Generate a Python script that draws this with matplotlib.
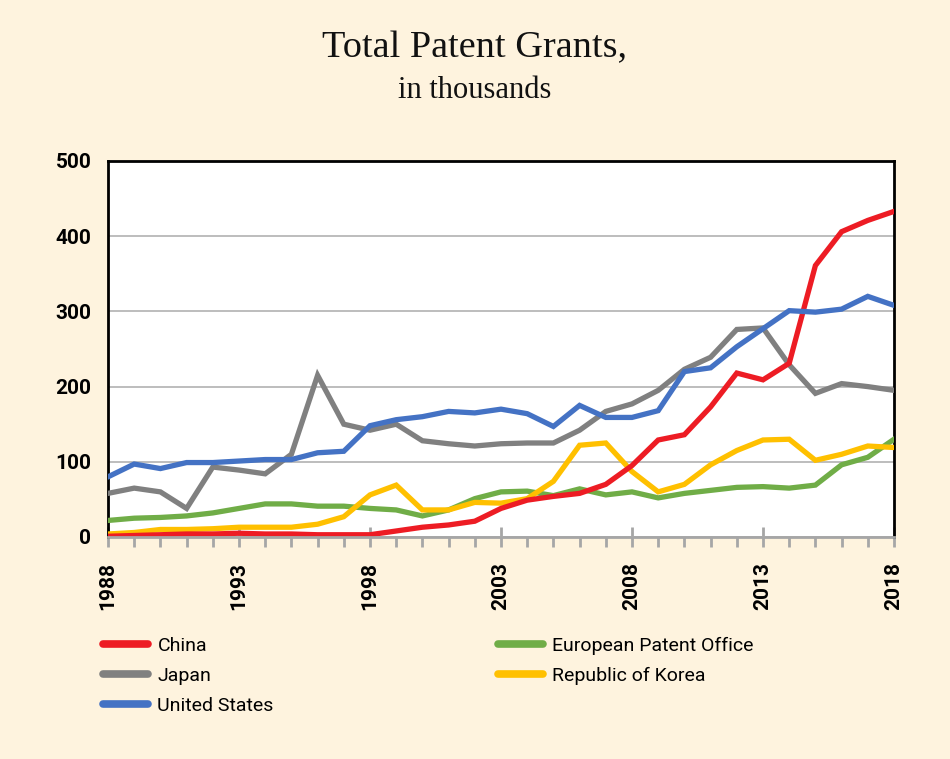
import matplotlib
matplotlib.use("Agg")
import matplotlib.pyplot as plt
from matplotlib.lines import Line2D

years = list(range(1988, 2019))

china = [1, 2, 3, 4, 4, 5, 4, 4, 3, 3, 3, 8, 13, 16, 21, 38,
         49, 54, 58, 70, 95, 129, 136, 173, 218, 209, 231, 361, 406, 421, 433]
japan = [58, 65, 60, 38, 93, 89, 84, 110, 215, 150, 142, 150, 128, 124, 121, 124,
         125, 125, 142, 167, 177, 195, 223, 239, 276, 278, 229, 191, 204, 200, 195]
united_states = [80, 97, 91, 99, 99, 101, 103, 103, 112, 114, 148, 156, 160, 167, 165, 170,
                 164, 147, 175, 159, 159, 168, 220, 225, 253, 277, 301, 299, 303, 320, 308]
epo = [22, 25, 26, 28, 32, 38, 44, 44, 41, 41, 38, 36, 28, 36, 51, 60,
       61, 55, 64, 56, 60, 52, 58, 62, 66, 67, 65, 69, 96, 106, 130]
korea = [4, 6, 10, 10, 11, 13, 13, 13, 17, 27, 56, 69, 36, 36, 46, 45,
         51, 74, 122, 125, 87, 60, 70, 96, 115, 129, 130, 102, 110, 121, 119]

x_ticks = [1988, 1993, 1998, 2003, 2008, 2013, 2018]
y_ticks = [0, 100, 200, 300, 400, 500]

bg = "#FEF3DE"
sans = ["Roboto", "DejaVu Sans"]
serif = "Liberation Serif"

fig = plt.figure(figsize=(9.5, 7.59), dpi=100, facecolor=bg)
ax = fig.add_axes([108 / 950, 1 - 537 / 759, (894 - 108) / 950, (537 - 161) / 759])
ax.set_facecolor("white")

series = [
    ("China", china, "#ED1C24"),
    ("Japan", japan, "#808080"),
    ("United States", united_states, "#4472C4"),
    ("European Patent Office", epo, "#70AD47"),
    ("Republic of Korea", korea, "#FFC000"),
]
# draw order so that red and blue sit on top like the source
for name in ["European Patent Office", "Republic of Korea", "Japan", "China", "United States"]:
    for n, vals, col in series:
        if n == name:
            ax.plot(years, vals, color=col, linewidth=3.8, solid_joinstyle="miter", zorder=3)

ax.set_xlim(1988, 2018)
ax.set_ylim(0, 500)
ax.set_yticks(y_ticks)
ax.set_xticks(x_ticks)
ax.set_xticks(years, minor=True)
ax.yaxis.grid(True, color="#BDBDBD", linewidth=1.4)
ax.set_axisbelow(True)

for s in ["left", "top", "right"]:
    ax.spines[s].set_color("black")
    ax.spines[s].set_linewidth(2)
ax.spines["bottom"].set_color("#A6A6A6")
ax.spines["bottom"].set_linewidth(2)
ax.spines["bottom"].set_zorder(4)

ax.tick_params(axis="y", length=0, pad=12)
ax.tick_params(axis="x", which="major", direction="inout", length=14, width=2, color="#A6A6A6", pad=11)
ax.tick_params(axis="x", which="minor", direction="out", length=7, width=2, color="#A6A6A6")

for lab in ax.get_yticklabels() + ax.get_xticklabels():
    lab.set_fontfamily(sans)
    lab.set_fontsize(15)
    lab.set_fontweight("bold")
for lab in ax.get_xticklabels():
    lab.set_rotation(90)

fig.text(0.5, 1 - 48 / 759, "Total Patent Grants,", ha="center", va="center",
         fontfamily=serif, fontsize=27.5, color="#111111")
fig.text(0.5, 1 - 91 / 759, "in thousands", ha="center", va="center",
         fontfamily=serif, fontsize=22, color="#111111")

def handles(items):
    return [Line2D([], [], color=c, linewidth=5.5, solid_capstyle="round") for _, _, c in items]

leg_kw = dict(frameon=False, prop={"family": sans, "size": 14}, handlelength=2.3,
              handletextpad=0.5, labelspacing=0.62, borderaxespad=0, borderpad=0)
left_items = series[:3]
right_items = series[3:]
fig.legend(handles(left_items), [n for n, _, _ in left_items], loc="upper left",
           bbox_to_anchor=(103 / 950, 1 - 637 / 759), **leg_kw)
fig.legend(handles(right_items), [n for n, _, _ in right_items], loc="upper left",
           bbox_to_anchor=(498 / 950, 1 - 637 / 759), **leg_kw)

fig.savefig("out.png", dpi=100, facecolor=bg)
